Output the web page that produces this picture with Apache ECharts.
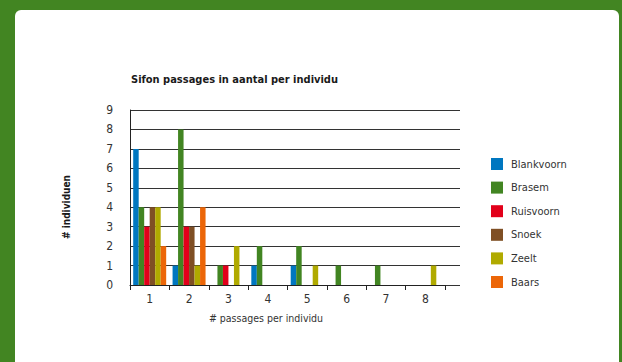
<!DOCTYPE html>
<html>
<head>
<meta charset="utf-8">
<script src="https://cdn.jsdelivr.net/npm/echarts@6/dist/echarts.min.js"></script>
<style>
html,body{margin:0;padding:0;background:#428522;}
#c{width:622px;height:362px;}
</style>
</head>
<body>
<div id="c"></div>
<script>
const categories = ['1','2','3','4','5','6','7','8'];
const seriesNames = ['Blankvoorn','Brasem','Ruisvoorn','Snoek','Zeelt','Baars'];
const blankvoorn = [7,1,0,1,1,0,0,0];
const brasem     = [4,8,1,2,2,1,1,0];
const ruisvoorn  = [3,3,1,0,0,0,0,0];
const snoek      = [4,3,0,0,0,0,0,0];
const zeelt      = [4,1,2,0,1,0,0,1];
const baars      = [2,4,0,0,0,0,0,0];
const yMin = 0, yMax = 9, yStep = 1;
const colors = ['#0077c0','#428522','#e2001a','#7f4f24','#b0aa00','#ec6608'];
const values = [blankvoorn, brasem, ruisvoorn, snoek, zeelt, baars];

const FONT = "'DejaVu Sans Condensed','Liberation Sans Narrow',Roboto,sans-serif";
const chart = echarts.init(document.getElementById('c'), null, {renderer:'svg'});
chart.setOption({
  backgroundColor: '#428522',
  animation: false,
  color: colors,
  textStyle: {fontFamily: FONT},
  title: {
    text: 'Sifon passages in aantal per individu',
    left: 126, top: 69,
    textStyle: {fontSize: 11, fontWeight: 'bold', color: '#1a1a1a', fontFamily: FONT}
  },
  graphic: [
    {type:'rect', z:-10, shape:{x:15, y:10, width:604, height:370, r:6}, style:{fill:'#ffffff'}},
    {type:'text', x:66, y:207, rotation:Math.PI/2,
     style:{text:'# individuen', font:'bold 10px '+FONT, fill:'#1a1a1a', textAlign:'center', textVerticalAlign:'middle'}},
    {type:'text', x:266, y:318,
     style:{text:'# passages per individu', font:'10.5px '+FONT, fill:'#333', textAlign:'center', textVerticalAlign:'middle'}}
  ],
  legend: {
    orient: 'vertical', left: 486, top: 153,
    itemWidth: 12, itemHeight: 12, itemGap: 11.6,
    icon: 'rect',
    data: seriesNames,
    textStyle: {fontSize: 11, color: '#333', fontFamily: FONT, padding:[0,0,0,3]}
  },
  grid: [
    {left:130, top:110, width:330, height:175},
    {left:130, top:110, width:315, height:175}
  ],
  xAxis: [
    {gridIndex:0, type:'value', min:0, max:1, show:false},
    {gridIndex:1, type:'category', data:categories,
     axisLine:{show:true, lineStyle:{color:'#222', width:1}},
     axisTick:{show:true, length:5, lineStyle:{color:'#222'}},
     axisLabel:{color:'#333', fontSize:12, margin:8, fontFamily:FONT},
     splitLine:{show:false}}
  ],
  yAxis: [
    {gridIndex:0, type:'value', min:yMin, max:yMax, interval:yStep,
     axisLine:{show:true, lineStyle:{color:'#222'}},
     axisTick:{show:false},
     axisLabel:{color:'#333', fontSize:12, margin:17, fontFamily:FONT},
     splitLine:{show:true, lineStyle:{color:'#333', width:1}}},
    {gridIndex:1, type:'value', min:yMin, max:yMax, interval:yStep, show:false}
  ],
  series: seriesNames.map((n,i)=>({
    name:n, type:'bar', xAxisIndex:1, yAxisIndex:1,
    data: values[i], barWidth:5.5, barGap:'0%',
    itemStyle:{color:colors[i]}
  }))
});
</script>
</body>
</html>
